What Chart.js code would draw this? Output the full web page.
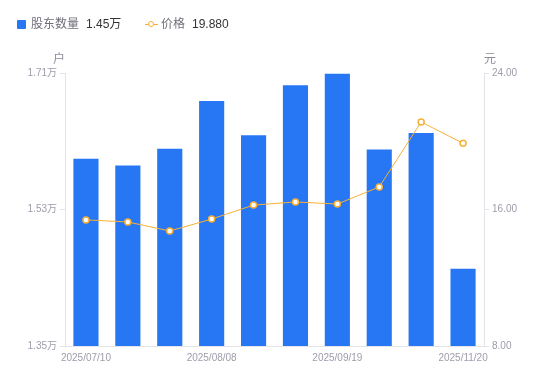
<!DOCTYPE html>
<html>
<head>
<meta charset="utf-8">
<script src="https://cdn.jsdelivr.net/npm/chart.js@4/dist/chart.umd.min.js"></script>
<style>
  body { margin: 0; background: #fff; font-family: "Liberation Sans", "Noto Sans CJK SC", sans-serif; }
  #wrap { position: relative; width: 550px; height: 381px; }
  canvas { position: absolute; left: 0; top: 0; }
  .lg { position: absolute; top: 16px; font-size: 12px; line-height: 16px; white-space: nowrap; }
  .lg .name { color: #6f6f7a; }
  .lg .val { color: #333; margin-left: 7px; }
  .sq { position: absolute; left: 17px; top: 20px; width: 9px; height: 9px; background: #2777f5; border-radius: 1px; }
  .mk { position: absolute; left: 145px; top: 24px; width: 13px; height: 1px; background: #f7b035; }
  .mk i { position: absolute; left: 3px; top: -3px; width: 4px; height: 4px; border: 1.5px solid #f7b035; border-radius: 50%; background: #fff; }
  .unit { position: absolute; top: 49px; font-size: 12px; color: #8c8c99; }
</style>
</head>
<body>
<div id="wrap">
  <canvas id="chart" width="550" height="381"></canvas>
  <div class="sq"></div>
  <div class="lg" style="left:31px"><span class="name">股东数量</span><span class="val">1.45万</span></div>
  <div class="mk"><i></i></div>
  <div class="lg" style="left:161px"><span class="name">价格</span><span class="val">19.880</span></div>
  <div class="unit" style="left:53px">户</div>
  <div class="unit" style="left:484px">元</div>
</div>
<script>
// dates of each report (only some are labelled on the axis)
const dates = ['2025/07/10', '2025/07/20', '2025/07/31', '2025/08/08', '2025/08/20',
               '2025/08/31', '2025/09/19', '2025/09/30', '2025/10/31', '2025/11/20'];
const shownDates = ['2025/07/10', '2025/08/08', '2025/09/19', '2025/11/20'];
// shareholder count, in 万户
const holders = [1.597, 1.588, 1.610, 1.673, 1.628, 1.694, 1.709, 1.609, 1.631, 1.452];
// price, 元
const prices = [15.39, 15.27, 14.74, 15.44, 16.26, 16.44, 16.32, 17.32, 21.13, 19.88];
const leftTicks = [1.35, 1.53, 1.71];
const rightTicks = [8, 16, 24];

const tickColor = '#9d9dab';
const lineGray = '#e3e3e8';
const font = { family: '"Liberation Sans", "Noto Sans CJK SC", sans-serif', size: 10 };

new Chart(document.getElementById('chart'), {
    type: 'bar',
    data: {
        labels: dates,
        datasets: [
            { type: 'line', label: '价格', data: prices, yAxisID: 'y1', order: 0,
              borderColor: '#f7b035', borderWidth: 1, pointRadius: 3, pointBorderWidth: 1.5,
              pointBackgroundColor: '#fff', pointBorderColor: '#f7b035', tension: 0 },
            { label: '股东数量', data: holders, yAxisID: 'y', order: 1,
              backgroundColor: '#2777f5', categoryPercentage: 1, barPercentage: 0.6 }
        ]
    },
    options: {
        responsive: false,
        animation: false,
        layout: { padding: { top: 73, bottom: 0, left: 0, right: 0 } },
        plugins: { legend: { display: false }, tooltip: { enabled: false } },
        scales: {
            x: {
                grid: { display: false, drawTicks: false },
                border: { color: lineGray },
                ticks: {
                    autoSkip: false, maxRotation: 0, padding: 6, color: tickColor, font: font,
                    callback: function(v, i) { return shownDates.includes(dates[i]) ? dates[i] : ''; }
                },
                afterFit: function(s) { s.height = 35; }
            },
            y: {
                position: 'left', min: 1.35, max: 1.71,
                grid: { drawOnChartArea: false, tickLength: 5, color: lineGray },
                border: { color: lineGray },
                ticks: { padding: 3, color: tickColor, font: font,
                         callback: v => v.toFixed(2) + '万' },
                afterBuildTicks: function(s) { s.ticks = leftTicks.map(v => ({ value: v })); },
                afterFit: function(s) { s.width = 65; }
            },
            y1: {
                position: 'right', min: 8, max: 24,
                grid: { drawOnChartArea: false, tickLength: 5, color: lineGray },
                border: { color: lineGray },
                ticks: { padding: 3, color: tickColor, font: font,
                         callback: v => v.toFixed(2) },
                afterBuildTicks: function(s) { s.ticks = rightTicks.map(v => ({ value: v })); },
                afterFit: function(s) { s.width = 66; }
            }
        }
    }
});
</script>
</body>
</html>
